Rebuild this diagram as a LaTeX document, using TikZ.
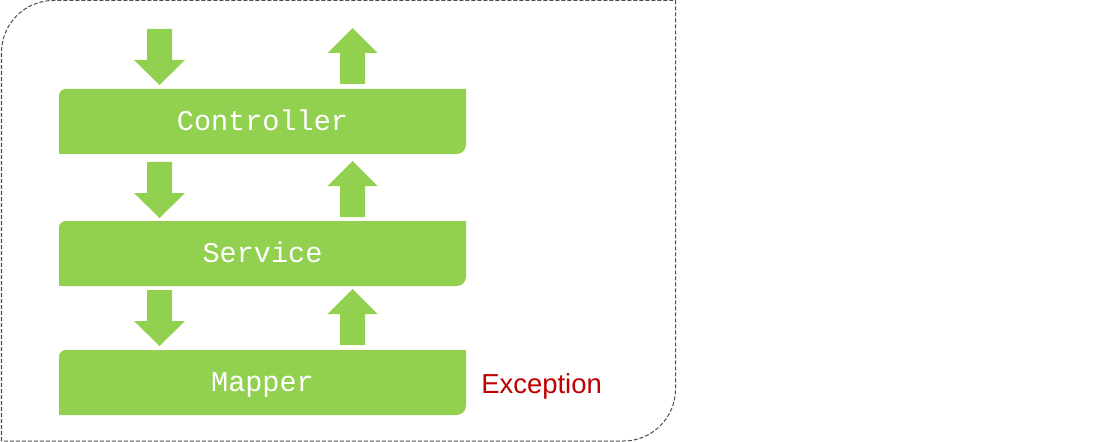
\documentclass[tikz,border=0pt]{standalone}
\usepackage{fontspec}
\setsansfont{Liberation Sans}
\setmonofont{Liberation Mono}
\definecolor{layergreen}{HTML}{92D050}
\definecolor{exred}{HTML}{C00000}
\tikzset{
	layer/.style={minimum width=305pt, minimum height=49pt, inner sep=0pt, text=white, font=\ttfamily\fontsize{21.4}{21.4}\selectfont, text height=13pt, text depth=0pt},
	frame/.style={draw=black!70, line width=0.75pt, dash pattern=on 3pt off 1.5pt}
}
\begin{document}
\begin{tikzpicture}[x=0.75pt, y=-0.75pt]
	\useasboundingbox (0,0) rectangle (1113,442);
	\draw[frame] (1.5,441) [rounded corners=39pt] -- (1.5,0.5) [sharp corners] -- (675.5,0.5) [rounded corners=39pt] -- (675.5,441) [sharp corners] -- cycle;
	
	\foreach \name/\y/\txt in {ctrl/121.5/Controller, svc/253.5/Service, mapper/382.5/Mapper}
	{
		\fill[layergreen] (59,\y+32.5) [rounded corners=5pt] -- (59,\y-32.5) [sharp corners] -- (466,\y-32.5) [rounded corners=7pt] -- (466,\y+32.5) [sharp corners] -- cycle;
		\node[layer] (\name) at (262.5,\y) {\txt};
	}
	
	\foreach \y in {29, 162, 290}
	{
		\fill[layergreen] (147,\y) -- (172,\y) -- (172,\y+31) -- (185,\y+31) -- (159.5,\y+56) -- (134,\y+31) -- (147,\y+31) -- cycle;
		\fill[layergreen] (352.5,\y-1) -- (377.5,\y+24) -- (365,\y+24) -- (365,\y+55) -- (340,\y+55) -- (340,\y+24) -- (327.5,\y+24) -- cycle;
	}
	
	\node[anchor=base west, inner sep=0pt, text=exred, font=\sffamily\fontsize{20.6}{20.6}\selectfont] (exc) at (481,393) {Exception};
\end{tikzpicture}
\end{document}
